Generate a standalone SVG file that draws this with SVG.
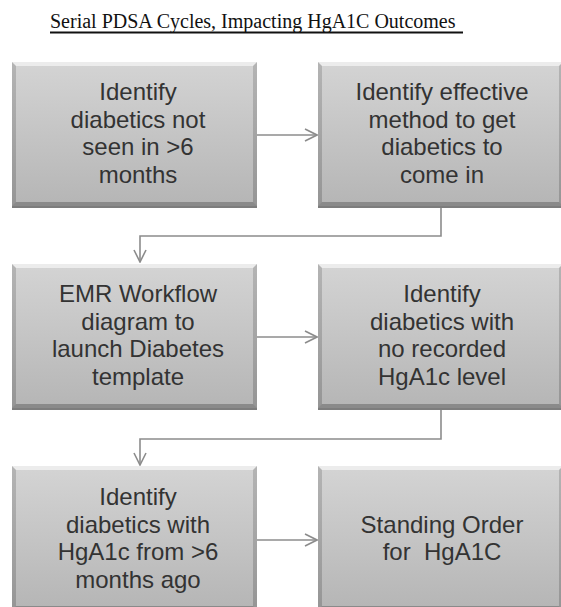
<svg xmlns="http://www.w3.org/2000/svg" xmlns:xlink="http://www.w3.org/1999/xlink" width="561" height="607" viewBox="0 0 561 607">
<style>
.t{font-family:"Liberation Sans",Arial,sans-serif;font-size:24px;fill:#333;text-anchor:middle}
.title{font-family:"Liberation Serif","Times New Roman",serif;font-size:20px;fill:#111}
.c{fill:none;stroke:#8c8c8c;stroke-width:1.6}
</style>
<defs>
<linearGradient id="face" x1="0" y1="0" x2="0" y2="1">
<stop offset="0" stop-color="#d3d3d3"/>
<stop offset="1" stop-color="#b6b6b6"/>
</linearGradient>
<linearGradient id="side" x1="0" y1="0" x2="0" y2="1">
<stop offset="0" stop-color="#b4b4b4"/>
<stop offset="1" stop-color="#959595"/>
</linearGradient>
<marker id="ah" viewBox="0 0 14 14" refX="13" refY="7" markerWidth="14" markerHeight="14" markerUnits="userSpaceOnUse" orient="auto">
<path d="M1,1 L13,7 L1,13" fill="none" stroke="#8c8c8c" stroke-width="1.6"/>
</marker>
<g id="box">
<rect x="0" y="0" width="245" height="146" fill="#7d7d7d"/>
<rect x="0" y="0" width="245" height="144" fill="url(#side)"/>
<polygon points="0,0 245,0 241,4 4,4" fill="#ececec"/>
<polygon points="0,144 245,144 241,140 4,140" fill="#8a8a8a"/>
<rect x="4" y="4" width="237" height="136" fill="url(#face)"/>
</g>
</defs>
<g id="title">
<text class="title" x="50" y="28">Serial PDSA Cycles, Impacting HgA1C Outcomes</text>
<line x1="50" y1="32.5" x2="463" y2="32.5" stroke="#111" stroke-width="1.8"/>
</g>
<g id="connectors">
<line class="c" x1="257" y1="135" x2="317" y2="135" marker-end="url(#ah)"/>
<polyline class="c" points="441,207 441,236 140,236 140,262" marker-end="url(#ah)"/>
<line class="c" x1="257" y1="337" x2="317" y2="337" marker-end="url(#ah)"/>
<polyline class="c" points="441,410 441,439 140,439 140,465" marker-end="url(#ah)"/>
<line class="c" x1="257" y1="540" x2="317" y2="540" marker-end="url(#ah)"/>
</g>
<g id="n1">
<use xlink:href="#box" x="12" y="62"/>
<text class="t" x="138"><tspan x="138" y="100">Identify</tspan><tspan x="138" y="127.5">diabetics not</tspan><tspan x="138" y="155">seen in &gt;6</tspan><tspan x="138" y="182.5">months</tspan></text>
</g>
<g id="n2">
<use xlink:href="#box" x="318" y="62"/>
<text class="t" x="442"><tspan x="442" y="100">Identify effective</tspan><tspan x="442" y="127.5">method to get</tspan><tspan x="442" y="155">diabetics to</tspan><tspan x="442" y="182.5">come in</tspan></text>
</g>
<g id="n3">
<use xlink:href="#box" x="12" y="264"/>
<text class="t" x="138"><tspan x="138" y="302">EMR Workflow</tspan><tspan x="138" y="329.5">diagram to</tspan><tspan x="138" y="357">launch Diabetes</tspan><tspan x="138" y="384.5">template</tspan></text>
</g>
<g id="n4">
<use xlink:href="#box" x="318" y="264"/>
<text class="t" x="442"><tspan x="442" y="302">Identify</tspan><tspan x="442" y="329.5">diabetics with</tspan><tspan x="442" y="357">no recorded</tspan><tspan x="442" y="384.5">HgA1c level</tspan></text>
</g>
<g id="n5">
<use xlink:href="#box" x="12" y="466"/>
<text class="t" x="138"><tspan x="138" y="505">Identify</tspan><tspan x="138" y="532.5">diabetics with</tspan><tspan x="138" y="560">HgA1c from &gt;6</tspan><tspan x="138" y="587.5">months ago</tspan></text>
</g>
<g id="n6">
<use xlink:href="#box" x="318" y="466"/>
<text class="t" x="442" xml:space="preserve"><tspan x="442" y="532.5">Standing Order</tspan><tspan x="442" y="560">for  HgA1C</tspan></text>
</g>
</svg>
